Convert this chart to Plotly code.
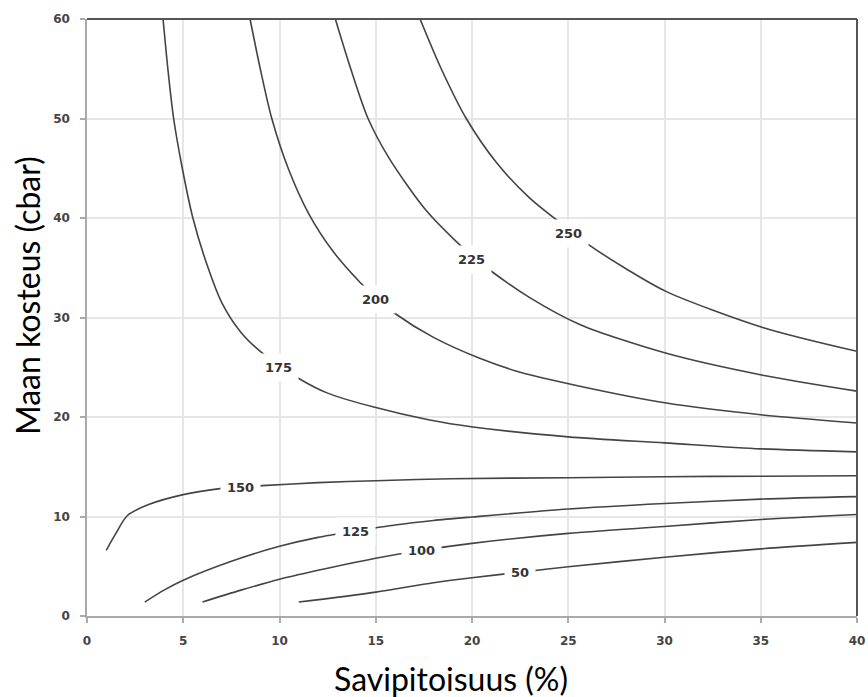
import plotly.graph_objects as go

# Contour curves (clay % on x, soil moisture cbar on y)
c50_x = [11, 15, 18, 20, 22.5, 25, 30, 35, 40]
c50_y = [1.4, 2.4, 3.35, 3.85, 4.4, 4.95, 5.9, 6.75, 7.4]

c100_x = [6, 8, 10, 12.5, 15, 17.4, 20, 25, 30, 35, 40]
c100_y = [1.4, 2.6, 3.7, 4.8, 5.8, 6.6, 7.3, 8.3, 9.0, 9.7, 10.2]

c125_x = [3, 4, 5, 7.5, 10, 12, 14, 16, 18, 20, 25, 30, 35, 40]
c125_y = [1.4, 2.6, 3.6, 5.5, 7.0, 7.9, 8.55, 9.15, 9.6, 9.95, 10.75, 11.3, 11.75, 12.0]

c150_x = [1, 1.5, 2.1, 3.2, 5, 6.9, 8, 9.1, 12, 15, 18.9, 25, 30, 35, 40]
c150_y = [6.6, 8.3, 10.1, 11.2, 12.2, 12.8, 13.0, 13.1, 13.4, 13.6, 13.8, 13.9, 14.0, 14.05, 14.1]

c175_x = [3.95, 4.2, 4.5, 4.95, 5.5, 6.2, 7.0, 8.0, 9.0, 10.0, 11.07, 12.5, 14.9, 17.8, 20.05, 25, 30, 35, 40]
c175_y = [60, 55, 50, 45, 40, 35.5, 31.5, 28.5, 26.6, 25.2, 23.8, 22.4, 21.0, 19.7, 19.0, 18.0, 17.4, 16.8, 16.5]

c200_x = [8.47, 9.0, 9.6, 10.45, 11.5, 12.8, 14.2, 15.0, 16.0, 18, 20.4, 22.5, 25.6, 30.1, 35.1, 40]
c200_y = [60, 55, 50, 45, 40.5, 36.6, 33.5, 32.0, 30.4, 28.0, 25.9, 24.5, 23.1, 21.4, 20.2, 19.4]

c225_x = [12.9, 13.7, 14.6, 15.7, 17.6, 19.2, 20.0, 20.9, 23, 25.6, 30.1, 35.1, 40]
c225_y = [60, 55, 50, 46, 40.8, 37.6, 36.2, 34.8, 32.0, 29.3, 26.4, 24.2, 22.6]

c250_x = [17.3, 18.4, 19.7, 21.3, 23.0, 25.0, 26.0, 28, 30.1, 35.1, 40]
c250_y = [60, 55, 50, 45.5, 42.0, 38.9, 37.4, 34.9, 32.6, 29.0, 26.6]

curves = [
    (c50_x, c50_y), (c100_x, c100_y), (c125_x, c125_y), (c150_x, c150_y),
    (c175_x, c175_y), (c200_x, c200_y), (c225_x, c225_y), (c250_x, c250_y),
]

# Contour labels
label_text = ["50", "100", "125", "150", "175", "200", "225", "250"]
label_x = [22.49, 17.39, 13.97, 7.98, 9.97, 15.0, 19.98, 25.0]
label_y = [4.35, 6.56, 8.47, 12.9, 25.0, 31.76, 35.8, 38.46]

x_ticks = [0, 5, 10, 15, 20, 25, 30, 35, 40]
y_ticks = [0, 10, 20, 30, 40, 50, 60]

fig = go.Figure()
for cx, cy in curves:
    fig.add_trace(go.Scatter(
        x=cx, y=cy, mode="lines",
        line=dict(color="#444444", width=1.6, shape="spline", smoothing=0.8),
        showlegend=False, hoverinfo="skip",
    ))

for t, lx, ly in zip(label_text, label_x, label_y):
    fig.add_annotation(
        x=lx, y=ly, text="<b>%s</b>" % t, showarrow=False,
        font=dict(family="DejaVu Sans", size=13, color="#333333"),
        bgcolor="white", borderpad=6,
    )

tick_font = dict(family="DejaVu Sans", size=12, color="#444444")
common = dict(
    showgrid=True, gridcolor="#e6e6e6", gridwidth=1.5,
    showline=True, linecolor="#aaaaaa", linewidth=1.5,
    ticks="outside", ticklen=5, tickcolor="#aaaaaa", tickwidth=1.5,
    tickfont=tick_font, zeroline=False, ticklabelstandoff=8, automargin=False,
)
fig.update_xaxes(range=[0, 40], tickvals=x_ticks,
                 ticktext=["<b>%d</b>" % v for v in x_ticks], **common)
fig.update_yaxes(range=[0, 60], tickvals=y_ticks,
                 ticktext=["<b>%d</b>" % v for v in y_ticks], **common)

# top and right frame lines (darker)
fig.add_shape(type="line", xref="paper", yref="paper", x0=0, x1=1, y0=1, y1=1,
              line=dict(color="#555555", width=2))
fig.add_shape(type="line", xref="paper", yref="paper", x0=1, x1=1, y0=0, y1=1,
              line=dict(color="#555555", width=2))

title_font = dict(family="Lato", size=32, color="black")
fig.add_annotation(x=0.473, y=-0.1055, xref="paper", yref="paper",
                   text="Savipitoisuus (%)", showarrow=False, font=title_font,
                   xanchor="center", yanchor="middle")
fig.add_annotation(x=-0.0779, y=0.536, xref="paper", yref="paper",
                   text="Maan kosteus (cbar)", showarrow=False, font=title_font,
                   textangle=-90, xanchor="center", yanchor="middle")

fig.update_layout(
    width=868, height=697, autosize=False,
    margin=dict(l=87, r=11, t=19, b=81),
    plot_bgcolor="white", paper_bgcolor="white",
)

fig.write_html(
    "out.html",
    config={"displayModeBar": False},
    post_script="document.body.style.margin='0';document.body.style.overflow='hidden';",
)
